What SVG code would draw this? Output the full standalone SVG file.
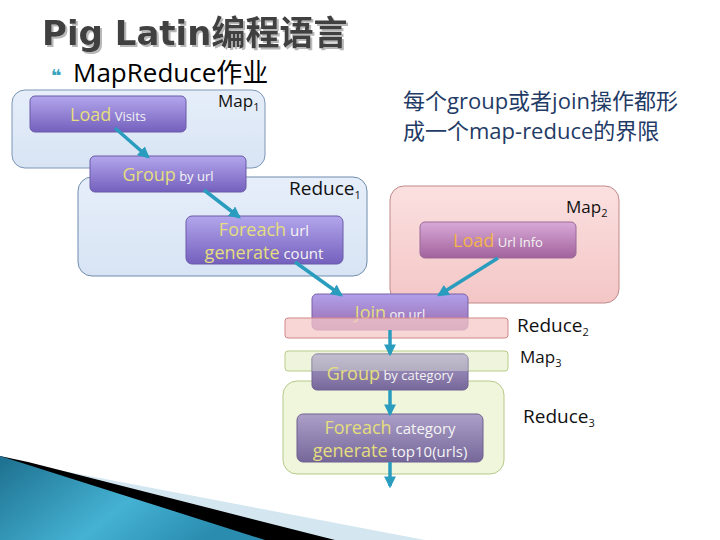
<svg xmlns="http://www.w3.org/2000/svg" width="720" height="540" viewBox="0 0 720 540">
<defs>
<style>
.t{font-family:"Open Sans","Noto Sans",sans-serif}
.ttl{font-family:"DejaVu Sans","Noto Sans CJK SC",sans-serif;font-weight:bold;font-size:34px}
.lbl{font-family:"Open Sans","Noto Sans",sans-serif;font-size:17px;fill:#111}
.rl{font-size:19px}
.kw{fill:#e4de7e;font-size:18px}
.wt{fill:#f4f4f4;font-size:13px}
.wt2{fill:#f4f4f4;font-size:15px}
.box{stroke:#6a5aa8;stroke-width:1}
.arr{stroke:#2a9dbf;stroke-width:3.5;fill:none;marker-end:url(#ah)}
</style>
<filter id="sh" x="-5%" y="-20%" width="110%" height="140%"><feDropShadow dx="2" dy="2" stdDeviation="0.6" flood-color="#b8b8b8" flood-opacity="1"/></filter>
<linearGradient id="gP" x1="0" y1="0" x2="0" y2="1"><stop offset="0" stop-color="#b3a6ec"/><stop offset="1" stop-color="#7460bd"/></linearGradient>
<linearGradient id="gPk" x1="0" y1="0" x2="0" y2="1"><stop offset="0" stop-color="#d8aad8"/><stop offset="1" stop-color="#a2629c"/></linearGradient>
<linearGradient id="gG" x1="0" y1="0" x2="0" y2="1"><stop offset="0" stop-color="#aca0c8"/><stop offset="1" stop-color="#76679a"/></linearGradient>
<linearGradient id="gJ" x1="0" y1="0" x2="0" y2="1"><stop offset="0" stop-color="#b0a0ea"/><stop offset="1" stop-color="#9a6aae"/></linearGradient>
<linearGradient id="gBlue" x1="0" y1="0" x2="0" y2="1"><stop offset="0" stop-color="#e6eefa"/><stop offset="1" stop-color="#d8e4f4"/></linearGradient>
<linearGradient id="gPink" x1="0" y1="0" x2="0" y2="1"><stop offset="0" stop-color="#fbe0e0"/><stop offset="1" stop-color="#f4c6c6"/></linearGradient>
<linearGradient id="gTeal" x1="0" y1="0" x2="1" y2="0.4"><stop offset="0" stop-color="#1d6f8e"/><stop offset="0.6" stop-color="#45b2d3"/><stop offset="1" stop-color="#2a8db0"/></linearGradient>
<marker id="ah" viewBox="0 0 10 10" refX="8" refY="5" markerWidth="3.4" markerHeight="3.4" orient="auto"><path d="M0,0 L10,5 L0,10 z" fill="#2a9dbf"/></marker>
</defs>
<rect width="720" height="540" fill="#fff"/>

<!-- bottom decoration -->
<polygon points="0,459 425,540 0,540" fill="#d4e7f0"/>
<polygon points="28,462 335,540 0,540 0,456" fill="#000"/>
<polygon points="0,456 265,540 0,540" fill="url(#gTeal)"/>

<!-- title -->
<text x="42" y="45" class="ttl" fill="#3f3f3f" filter="url(#sh)">Pig Latin编程语言</text>
<text x="51" y="82" font-family="'DejaVu Sans',sans-serif" font-weight="bold" font-size="18" fill="#3aa3bf">❝</text>
<text x="73" y="82" font-family="'Open Sans','Noto Sans CJK SC',sans-serif" font-size="26" fill="#000">MapReduce作业</text>

<!-- comment -->
<g id="comment" font-family="'Open Sans','Noto Sans CJK SC',sans-serif" font-size="22" fill="#1f3b66">
<text x="403" y="109">每个group或者join操作都形</text>
<text x="403" y="139">成一个map-reduce的界限</text>
</g>

<!-- containers -->
<g id="map1"><rect x="12" y="90" width="253" height="78" rx="13" fill="url(#gBlue)" stroke="#7c96b6"/><text x="218" y="107" class="lbl">Map<tspan font-size="11" dy="4">1</tspan></text></g>
<g id="reduce1"><rect x="78" y="177" width="289" height="99" rx="14" fill="url(#gBlue)" stroke="#6f8cae"/><text x="289" y="195" class="lbl rl">Reduce<tspan font-size="11" dy="4">1</tspan></text></g>
<g id="map2"><rect x="390" y="186" width="229" height="117" rx="14" fill="url(#gPink)" stroke="#c08a8a"/><text x="566" y="213" class="lbl">Map<tspan font-size="11" dy="4">2</tspan></text></g>
<g id="reduce3"><rect x="283" y="381" width="221" height="93" rx="14" fill="#f0f6dc" stroke="#b6c98a"/><text x="523" y="423" class="lbl rl">Reduce<tspan font-size="11" dy="4">3</tspan></text></g>

<!-- nodes -->
<g id="loadVisits"><rect x="30" y="96" width="156" height="36" rx="5" fill="url(#gP)" class="box"/><text x="108" y="121" text-anchor="middle" class="t"><tspan class="kw">Load</tspan><tspan class="wt"> Visits</tspan></text></g>
<g id="groupUrl"><rect x="90" y="156" width="156" height="36" rx="5" fill="url(#gP)" class="box"/><text x="168" y="181" text-anchor="middle" class="t"><tspan class="kw">Group</tspan><tspan class="wt"> by url</tspan></text></g>
<g id="foreachUrl"><rect x="186" y="216" width="157" height="48" rx="6" fill="url(#gP)" class="box"/><text x="264" y="236" text-anchor="middle" class="t"><tspan class="kw">Foreach</tspan><tspan class="wt2"> url</tspan></text><text x="264" y="259" text-anchor="middle" class="t"><tspan class="kw">generate</tspan><tspan class="wt2"> count</tspan></text></g>
<g id="loadUrlInfo"><rect x="420" y="222" width="156" height="36" rx="5" fill="url(#gPk)" stroke="#9a6a96"/><text x="498" y="247" text-anchor="middle" class="t"><tspan fill="#f2b44a" font-size="18">Load</tspan><tspan class="wt"> Url Info</tspan></text></g>
<g id="joinUrl"><rect x="312" y="294" width="156" height="36" rx="5" fill="url(#gJ)" stroke="#7a60a8"/><text x="390" y="319" text-anchor="middle" class="t"><tspan class="kw">Join</tspan><tspan class="wt"> on url</tspan></text></g>
<g id="reduce2"><rect x="285" y="318" width="223" height="20" rx="3" fill="#f6c8c8" fill-opacity="0.75" stroke="#d08888"/><text x="517" y="332" class="lbl rl">Reduce<tspan font-size="11" dy="4">2</tspan></text></g>
<g id="map3"><rect x="285" y="351" width="223" height="20" rx="3" fill="#eef5dc" stroke="#b8cc88"/><text x="520" y="363" class="lbl">Map<tspan font-size="11" dy="4">3</tspan></text></g>
<g id="groupCat"><rect x="312" y="354" width="156" height="36" rx="5" fill="url(#gG)" stroke="#6f6090"/><rect x="312" y="354" width="156" height="17" fill="#eef5dc" fill-opacity="0.35"/><text x="390" y="380" text-anchor="middle" class="t"><tspan class="kw">Group</tspan><tspan class="wt" font-size="14"> by category</tspan></text></g>
<g id="foreachCat"><rect x="297" y="414" width="186" height="48" rx="6" fill="url(#gG)" stroke="#6f6090"/><text x="390" y="434" text-anchor="middle" class="t"><tspan class="kw">Foreach</tspan><tspan class="wt2"> category</tspan></text><text x="390" y="457" text-anchor="middle" class="t"><tspan class="kw">generate</tspan><tspan class="wt2"> top10(urls)</tspan></text></g>

<!-- connectors -->
<g id="connectors">
<line x1="115" y1="128" x2="148" y2="157" class="arr"/>
<line x1="204" y1="190" x2="239" y2="217" class="arr"/>
<line x1="295" y1="262" x2="341" y2="295" class="arr"/>
<line x1="498" y1="258" x2="439" y2="295" class="arr"/>
<line x1="390" y1="330" x2="390" y2="354" class="arr"/>
<line x1="390" y1="390" x2="390" y2="414" class="arr"/>
<line x1="390" y1="462" x2="390" y2="486" class="arr"/>
</g>
</svg>
